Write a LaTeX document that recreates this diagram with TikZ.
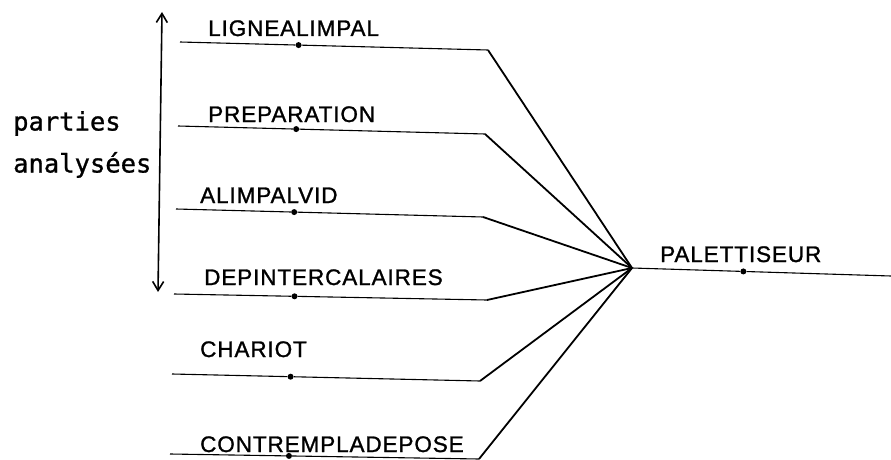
\documentclass[tikz,border=0pt]{standalone}
\usepackage{fontspec}
\setmainfont{Liberation Sans}[LetterSpace = 4, FakeBold = 1.2]
\newfontfamily\typefont{DejaVu Sans Mono}[FakeBold = 1]
\usetikzlibrary{calc, arrows.meta}
\tikzset{
	wire/.style = {line width = 1.1pt},
	link/.style = {line width = 1.8pt},
	joint/.style = {circle, fill, inner sep = 0pt, minimum size = 6pt},
	partname/.style = {anchor = base west, inner sep = 0pt, font = \fontsize{22.5}{22.5}\selectfont},
	sidetext/.style = {anchor = base west, inner sep = 0pt, font = \typefont\fontsize{25.5}{25.5}\selectfont},
}

\begin{document}
\begin{tikzpicture}[x = 1pt, y = -1pt]
	\useasboundingbox (0, 0) rectangle (891, 460);
	\coordinate (hub) at (632, 268);
	% the analysed parts
	\foreach \name/\xs/\ys/\xb/\yb/\xl/\yl [count = \i] in {
			LIGNEALIMPAL/180/42/488/50/208/36,
			PREPARATION/178/126/485/134/208/122,
			ALIMPALVID/176/209/483/217/200/203,
			DEPINTERCALAIRES/174/294/487/300/204/285,
			CHARIOT/172/374/480/381/200/357,
			CONTREMPLADEPOSE/170/454/479/459/200/452} {
			\coordinate (in\i) at (\xs, \ys);
			\coordinate (bend\i) at (\xb, \yb);
			\node[joint] (dot\i) at ($(in\i)!0.385!(bend\i)$) {};
			\node[partname] (name\i) at (\xl, \yl) {\name};
			\draw[wire] (in\i) -- (dot\i) -- (bend\i);
			\draw[link] (bend\i) -- (hub);
		}
	% the whole
	\coordinate (out) at (891, 276);
	\node[joint] (dotout) at ($(hub)!0.43!(out)$) {};
	\node[partname] (whole) at (660, 262) {PALETTISEUR};
	\draw[wire] (hub) -- (dotout) -- (out);
	% side arrow
	\coordinate (top) at (162, 12);
	\coordinate (bottom) at (158, 292);
	\draw[line width = 1.6pt, {Straight Barb[length = 9pt, width = 11pt]}-{Straight Barb[length = 9pt, width = 11pt]}] (bottom) -- (top);
	\node[sidetext] (parties) at (13, 130.5) {parties};
	\node[sidetext] (analysees) at (13, 172.5) {analysées};
\end{tikzpicture}
\end{document}
